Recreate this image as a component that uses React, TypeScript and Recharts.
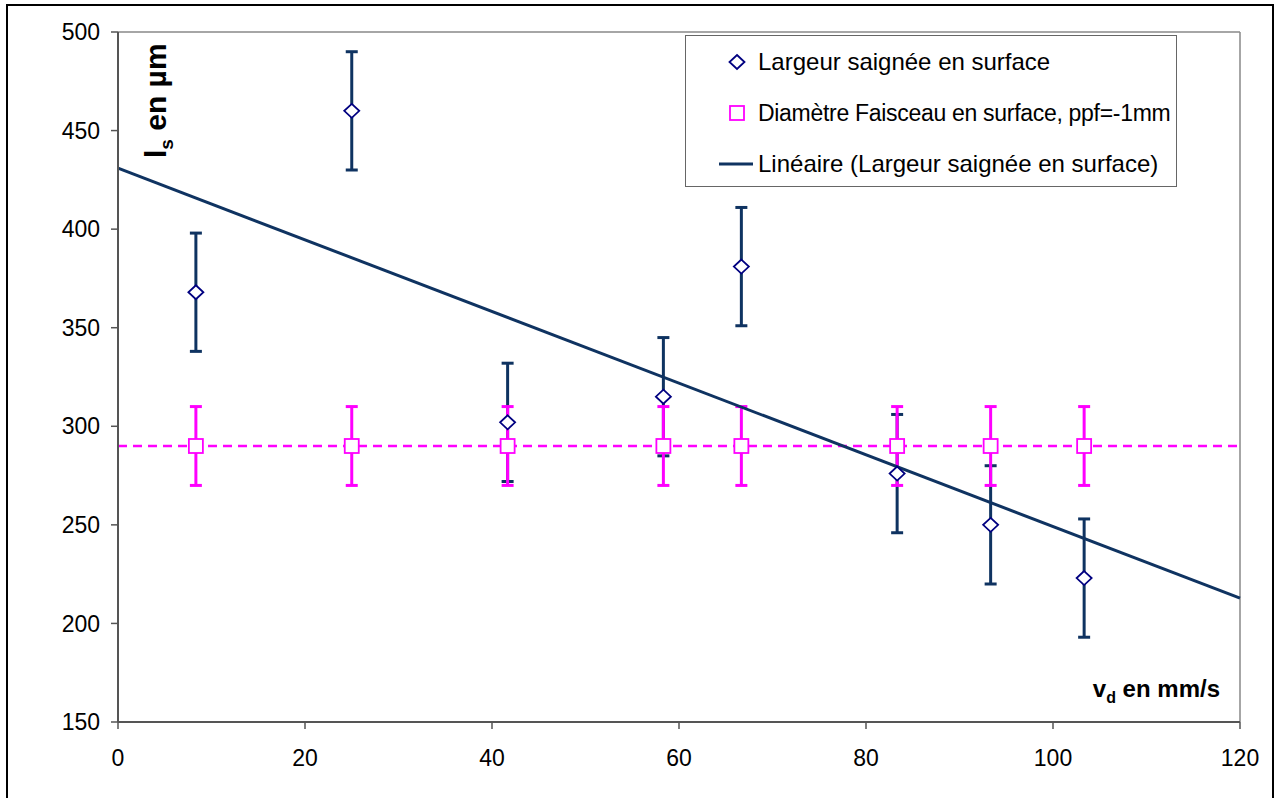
import { ComposedChart, ErrorBar, Label, Legend, ReferenceLine, Scatter, XAxis, YAxis } from 'recharts';

const vitesses = [8.33, 25, 41.67, 58.33, 66.67, 83.33, 93.33, 103.33];
const largeurs = [368, 460, 302, 315, 381, 276, 250, 223];
const largeurErreurs = [30, 30, 30, 30, 30, 30, 30, 30];
const diametres = [290, 290, 290, 290, 290, 290, 290, 290];
const diametreErreurs = [20, 20, 20, 20, 20, 20, 20, 20];
const xTicks = [0, 20, 40, 60, 80, 100, 120];
const yTicks = [150, 200, 250, 300, 350, 400, 450, 500];
const legendLabels = [
  'Largeur saignée en surface',
  'Diamètre Faisceau en surface, ppf=-1mm',
  'Linéaire (Largeur saignée en surface)',
];

const navy = '#0f3361';
const marine = '#000080';
const magenta = '#ff00ff';
const font = '"Liberation Sans", Arial, sans-serif';

const largeurData = vitesses.map((v, i) => ({ v, y: largeurs[i], err: largeurErreurs[i] }));
const diametreData = vitesses.map((v, i) => ({ v, y: diametres[i], err: diametreErreurs[i] }));

// least squares, like the Excel "Linéaire" trendline
function linearFit(xs: number[], ys: number[]) {
  const n = xs.length;
  const mx = xs.reduce((a, b) => a + b, 0) / n;
  const my = ys.reduce((a, b) => a + b, 0) / n;
  let sxy = 0;
  let sxx = 0;
  xs.forEach((x, i) => {
    sxy += (x - mx) * (ys[i] - my);
    sxx += (x - mx) * (x - mx);
  });
  const slope = sxy / sxx;
  return (x: number) => my + slope * (x - mx);
}

const largeurFit = linearFit(vitesses, largeurs);
const diametreFit = linearFit(vitesses, diametres);

const Diamond = (props: any) => {
  const { cx, cy } = props;
  return (
    <path
      d={`M${cx},${cy - 7} L${cx + 7.5},${cy} L${cx},${cy + 7} L${cx - 7.5},${cy} Z`}
      fill="#fff"
      stroke={marine}
      strokeWidth={1.8}
    />
  );
};

const Square = (props: any) => {
  const { cx, cy } = props;
  return <rect x={cx - 7} y={cy - 7} width={14} height={14} fill="#fff" stroke={magenta} strokeWidth={1.8} />;
};

const Nothing = () => <g />;

const YTitle = (props: any) => {
  const { viewBox } = props;
  const x = viewBox.x + viewBox.width + 48;
  const y = viewBox.y + 126;
  return (
    <text x={x} y={y} transform={`rotate(-90 ${x} ${y})`} fontSize={30} fontWeight="bold" fill="#000" fontFamily={font}>
      l<tspan fontSize={19} dy={7}>s</tspan>
      <tspan dy={-7}> en µm</tspan>
    </text>
  );
};

const XTitle = (props: any) => {
  const { viewBox } = props;
  const x = viewBox.x + viewBox.width - 20;
  const y = viewBox.y - 25;
  return (
    <text x={x} y={y} textAnchor="end" fontSize={24} fontWeight="bold" fill="#000" fontFamily={font}>
      v<tspan fontSize={16} dy={6}>d</tspan>
      <tspan dy={-6}> en mm/s</tspan>
    </text>
  );
};

function LegendBox() {
  const row = (top: number): React.CSSProperties => ({
    position: 'absolute',
    left: 0,
    top,
    height: 30,
    width: '100%',
    display: 'flex',
    alignItems: 'center',
    whiteSpace: 'nowrap',
  });
  return (
    <div
      style={{
        position: 'relative',
        width: 492,
        height: 152,
        boxSizing: 'border-box',
        border: '1px solid #666',
        background: '#fff',
        fontFamily: font,
        fontSize: 24,
        color: '#000',
      }}
    >
      <div style={row(11)}>
        <svg width={72} height={30} style={{ flex: 'none' }}>
          <Diamond cx={51} cy={15} />
        </svg>
        <span>{legendLabels[0]}</span>
      </div>
      <div style={row(62)}>
        <svg width={72} height={30} style={{ flex: 'none' }}>
          <Square cx={51} cy={15} />
        </svg>
        <span style={{ fontSize: 23, letterSpacing: -0.3 }}>{legendLabels[1]}</span>
      </div>
      <div style={row(113)}>
        <svg width={72} height={30} style={{ flex: 'none' }}>
          <line x1={33} y1={15} x2={67} y2={15} stroke={navy} strokeWidth={3} />
        </svg>
        <span>{legendLabels[2]}</span>
      </div>
    </div>
  );
}

export default function App() {
  return (
    <div
      style={{
        position: 'absolute',
        left: 0,
        top: 0,
        width: 1280,
        height: 798,
        overflow: 'hidden',
        background: '#fff',
        fontFamily: font,
      }}
    >
      <div
        style={{
          position: 'absolute',
          left: 6,
          top: 4,
          width: 1268,
          height: 900,
          border: '2px solid #000',
          boxSizing: 'border-box',
        }}
      />
      <div style={{ position: 'absolute', left: 0, top: 0 }}>
        <ComposedChart width={1280} height={798} margin={{ top: 32, right: 40, bottom: 16, left: 58 }}>
          <XAxis
            dataKey="v"
            type="number"
            domain={[0, 120]}
            ticks={xTicks}
            height={60}
            tickSize={7}
            tickMargin={21}
            axisLine={{ stroke: '#555', strokeWidth: 2 }}
            tickLine={{ stroke: '#555', strokeWidth: 1.5 }}
            tick={{ fontSize: 23, fill: '#000', fontFamily: font }}
            allowDataOverflow
          >
            <Label content={XTitle} />
          </XAxis>
          <YAxis
            type="number"
            domain={[150, 500]}
            ticks={yTicks}
            width={60}
            tickSize={7}
            tickMargin={11}
            axisLine={{ stroke: '#555', strokeWidth: 2 }}
            tickLine={{ stroke: '#555', strokeWidth: 1.5 }}
            tick={{ fontSize: 23, fill: '#000', fontFamily: font }}
            allowDataOverflow
          >
            <Label content={YTitle} />
          </YAxis>
          <ReferenceLine y={500} stroke="#888" strokeWidth={1.5} />
          <ReferenceLine x={120} stroke="#888" strokeWidth={1.5} />
          <Scatter data={largeurData} dataKey="y" shape={Nothing} isAnimationActive={false}>
            <ErrorBar dataKey="err" direction="y" width={6} strokeWidth={3} stroke={navy} />
          </Scatter>
          <Scatter data={diametreData} dataKey="y" shape={Square} isAnimationActive={false}>
            <ErrorBar dataKey="err" direction="y" width={6} strokeWidth={3} stroke={magenta} />
          </Scatter>
          <ReferenceLine
            segment={[
              { x: 0, y: diametreFit(0) },
              { x: 120, y: diametreFit(120) },
            ]}
            stroke={magenta}
            strokeWidth={2.5}
            strokeDasharray="9 6"
          />
          <ReferenceLine
            segment={[
              { x: 0, y: largeurFit(0) },
              { x: 120, y: largeurFit(120) },
            ]}
            stroke={navy}
            strokeWidth={3}
          />
          <Scatter data={largeurData} dataKey="y" shape={Diamond} isAnimationActive={false} />
          <Legend
            layout="vertical"
            align="center"
            verticalAlign="middle"
            wrapperStyle={{ left: 685, top: 35, width: 492, height: 152 }}
            content={() => <LegendBox />}
          />
        </ComposedChart>
      </div>
    </div>
  );
}
